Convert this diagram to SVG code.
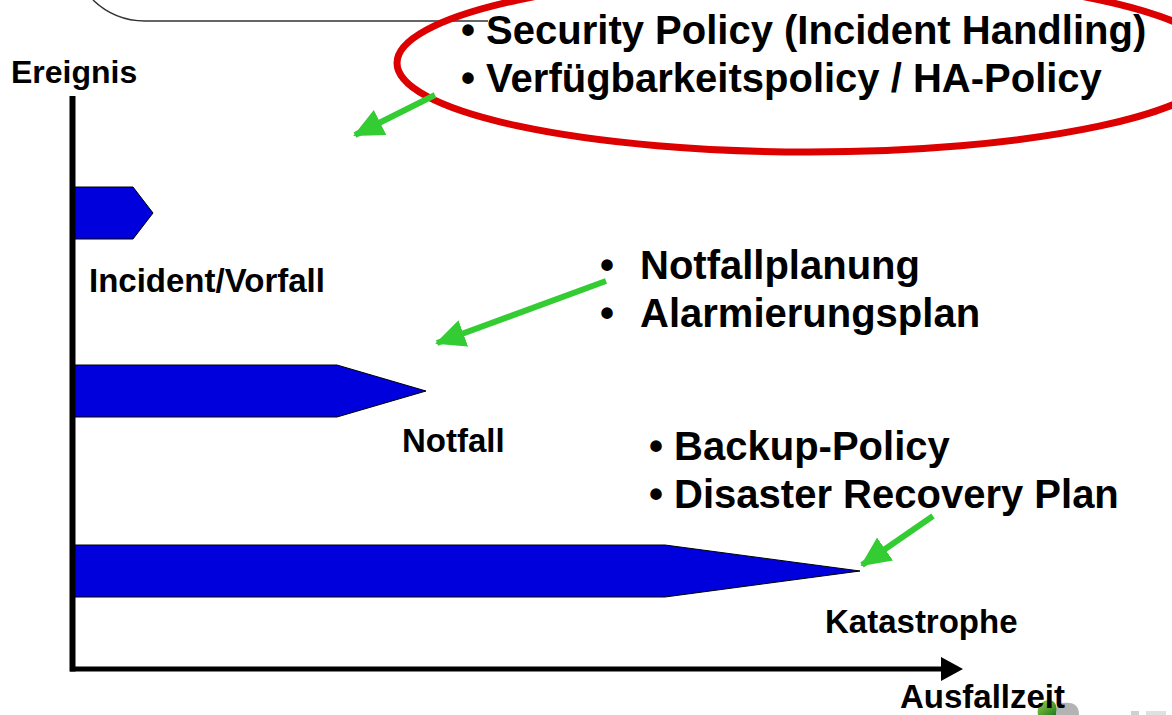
<svg xmlns="http://www.w3.org/2000/svg" width="1172" height="715" viewBox="0 0 1172 715">
<defs>
<style>
.lbl{font-family:"Liberation Sans",Arial,Helvetica,sans-serif;font-weight:bold;fill:#000;font-size:33px}
.big{font-family:"Liberation Sans",Arial,Helvetica,sans-serif;font-weight:bold;fill:#000;font-size:40px}
.bar{fill:#0000dc;stroke:#000;stroke-width:1}
.garrow{stroke:#33cc33;stroke-width:6;fill:none}
</style>
<marker id="gh" markerUnits="userSpaceOnUse" markerWidth="30" markerHeight="30" viewBox="0 0 30 30" refX="28" refY="15" orient="auto">
<path d="M0,1 L30,15 L0,29 Z" fill="#33cc33"/>
</marker>
<linearGradient id="lg" x1="0" y1="0" x2="1" y2="1">
<stop offset="0" stop-color="#9ad04a"/>
<stop offset="1" stop-color="#1f7a1f"/>
</linearGradient>
</defs>
<rect width="1172" height="715" fill="#fff"/>

<g id="topbox">
<path d="M93,0 A75,75 0 0 0 145,21 L488,21" fill="none" stroke="#333" stroke-width="1.5"/>
</g>

<g id="logo">
<path d="M1038,715 C1036,706 1042,700 1050,700 C1056,701 1058,708 1056,715 Z" fill="url(#lg)"/>
<path d="M1056,715 L1057,707 C1058,703 1063,702 1070,703 C1077,704 1079,709 1079,715 Z" fill="#b3b3b3"/>
<rect x="1131" y="711" width="8" height="4" fill="#d0d0d0"/>
<rect x="1146" y="711" width="20" height="4" fill="#e0e0e0"/>
</g>

<g id="bar-incident">
<path class="bar" d="M73,187 L133,187 L153,213 L133,239 L73,239 Z"/>
<text class="lbl" x="89" y="292">Incident/Vorfall</text>
</g>
<g id="bar-notfall">
<path class="bar" d="M73,365 L337,365 L426,391 L337,417 L73,417 Z"/>
<text class="lbl" x="402" y="452">Notfall</text>
</g>
<g id="bar-katastrophe">
<path class="bar" d="M73,545 L665,545 L860,571 L665,597 L73,597 Z"/>
<text class="lbl" x="825" y="633">Katastrophe</text>
</g>

<g id="axes">
<line x1="72.5" y1="96" x2="72.5" y2="671.5" stroke="#000" stroke-width="6"/>
<line x1="70" y1="669" x2="942" y2="669" stroke="#000" stroke-width="5"/>
<path d="M941,657 L963,669 L941,681 Z" fill="#000"/>
<text class="lbl" x="11" y="83" style="font-size:32px">Ereignis</text>
<text class="lbl" x="900" y="708">Ausfallzeit</text>
</g>

<g id="policy-top">
<ellipse cx="809" cy="63" rx="412" ry="89" fill="none" stroke="#dd0000" stroke-width="7"/>
<text class="big" x="461" y="44">• Security Policy (Incident Handling)</text>
<text class="big" x="461" y="92">• Verfügbarkeitspolicy / HA-Policy</text>
</g>

<g id="policy-notfall">
<text class="big" x="600" y="279">•</text>
<text class="big" x="640" y="279">Notfallplanung</text>
<text class="big" x="600" y="327">•</text>
<text class="big" x="640" y="327">Alarmierungsplan</text>
</g>

<g id="policy-katastrophe">
<text class="big" x="649" y="460">• Backup-Policy</text>
<text class="big" x="649" y="508">• Disaster Recovery Plan</text>
</g>

<g id="connectors">
<line class="garrow" x1="435" y1="95" x2="355" y2="135" marker-end="url(#gh)"/>
<line class="garrow" x1="606" y1="281" x2="437" y2="343" marker-end="url(#gh)"/>
<line class="garrow" x1="933" y1="516" x2="862" y2="565" marker-end="url(#gh)"/>
</g>
</svg>
